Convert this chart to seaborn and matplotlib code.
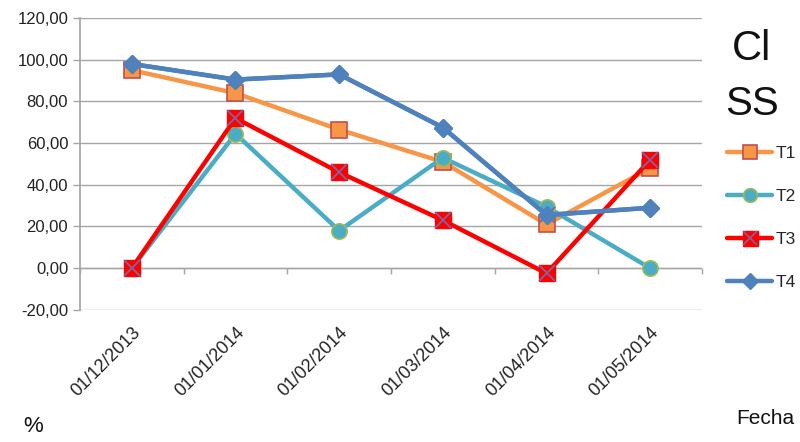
import matplotlib
matplotlib.use("Agg")
import matplotlib.pyplot as plt
import seaborn as sns
import numpy as np
import pandas as pd
from matplotlib.lines import Line2D
from matplotlib.legend_handler import HandlerTuple

fechas = ["01/12/2013", "01/01/2014", "01/02/2014", "01/03/2014", "01/04/2014", "01/05/2014"]
t1 = [95, 84, 66.5, 51, 21, 48]
t2 = [0, 64.5, 18, 53, 29.5, 0]
t3 = [0, 72, 46, 23, -2.5, 52]
t4 = [98, 90.5, 93, 67.5, 25.5, 29]
series_names = ["T1", "T2", "T3", "T4"]
yticks = [-20, 0, 20, 40, 60, 80, 100, 120]

sns.set_theme(style="white")
plt.rcParams['font.family'] = ['Liberation Sans Narrow', 'Liberation Sans', 'DejaVu Sans']

fig = plt.figure(figsize=(8, 4.42), dpi=100)
ax = fig.add_axes([0.1, 0.299, 0.7775, 0.66])

x = np.arange(len(fechas))
styles = {
    "T1": dict(color="#F79646", marker="s", mfc="#F79646", mec="#C0504D", ms=11, mew=1.2),
    "T2": dict(color="#4BACC6", marker="o", mfc="#4BACC6", mec="#9BBB59", ms=11, mew=1.2),
    "T3": dict(color="#FF0000", marker="s", mfc="#FF0000", mec="#FF0000", ms=12, mew=1),
    "T4": dict(color="#4F81BD", marker="D", mfc="#4F81BD", mec="#4F81BD", ms=9, mew=1),
}
data = {"T1": t1, "T2": t2, "T3": t3, "T4": t4}

for name in series_names:
    st = styles[name]
    sns.lineplot(x=x, y=data[name], ax=ax, color=st["color"], lw=3.2,
                 marker=st["marker"], markersize=st["ms"], markerfacecolor=st["mfc"],
                 markeredgecolor=st["mec"], markeredgewidth=st["mew"], zorder=3)
# purple X on top of T3 markers
ax.plot(x, t3, linestyle="none", marker="x", markersize=11, markeredgecolor="#8064A2",
        markeredgewidth=1.3, zorder=4)
# T4 redrawn over
ax.plot(x, t4, color="#4F81BD", lw=3.2, marker="D", markersize=9, zorder=5)
ax.plot([x[-2]], [t4[-2]], linestyle="none", marker="x", markersize=11,
        markeredgecolor="#8064A2", markeredgewidth=1.3, zorder=4)

ax.set_xlim(-0.5, len(fechas) - 0.5)
ax.set_ylim(-20, 120)
ax.set_yticks(yticks)
ax.set_yticklabels([f"{v:.2f}".replace(".", ",") for v in yticks], fontsize=12, color="#222222")
ax.set_xticks(x)
ax.set_xticklabels(fechas, rotation=45, ha="right", rotation_mode="anchor", fontsize=13, color="#222222")
ax.tick_params(axis="x", length=0, pad=10)
ax.tick_params(axis="y", length=5, color="#A6A6A6", left=True, width=1)
ax.grid(axis="y", color="#A6A6A6", lw=1)
ax.set_axisbelow(True)
for s in ["top", "right", "bottom"]:
    ax.spines[s].set_visible(False)
ax.spines["left"].set_color("#A6A6A6")
ax.axhline(0, color="#A6A6A6", lw=1, zorder=1)
ax.vlines(np.arange(len(fechas) + 1) - 0.5, -3, 0, color="#A6A6A6", lw=1, clip_on=False)
ax.set_xlabel("")
ax.set_ylabel("")

fig.text(0.94, 0.89, "Cl", fontsize=30, ha="center", va="center", color="#111111")
fig.text(0.94, 0.765, "SS", fontsize=29, ha="center", va="center", color="#111111")

handles = []
for name in series_names:
    st = styles[name]
    h = Line2D([0], [0], color=st["color"], lw=3.2, marker=st["marker"], markersize=st["ms"] * 0.9,
               markerfacecolor=st["mfc"], markeredgecolor=st["mec"], markeredgewidth=st["mew"])
    if name == "T3":
        hx = Line2D([0], [0], linestyle="none", marker="x", markersize=10,
                    markeredgecolor="#8064A2", markeredgewidth=1.2)
        h = (h, hx)
    handles.append(h)
leg = fig.legend(handles, series_names, loc="upper left", bbox_to_anchor=(0.9, 0.685),
                 frameon=False, fontsize=12.5, handlelength=2.6, labelspacing=1.6,
                 handletextpad=0.2, borderaxespad=0,
                 handler_map={tuple: HandlerTuple(ndivide=1, pad=0)})

fig.text(0.042, 0.035, "%", fontsize=16, ha="center", va="center", color="#111111")
fig.text(0.957, 0.054, "Fecha", fontsize=15, ha="center", va="center", color="#111111")

fig.savefig("out.png", dpi=100)
